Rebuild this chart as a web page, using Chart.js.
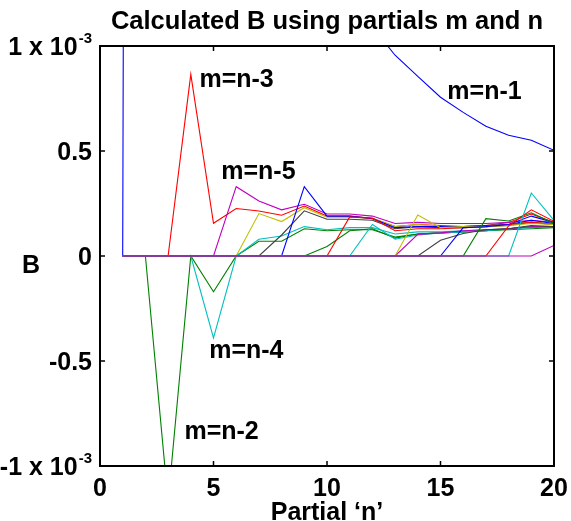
<!DOCTYPE html>
<html>
<head>
<meta charset="utf-8">
<script src="https://cdn.jsdelivr.net/npm/chart.js@4.4.0/dist/chart.umd.min.js"></script>
<style>
  html, body { margin: 0; padding: 0; background: #fff; overflow: hidden; }
  #wrap { width: 571px; height: 521px; }
  canvas { display: block; }
</style>
</head>
<body>
<div id="wrap"><canvas id="bChart"></canvas></div>
<script>
// partial number n (x axis)
const partialN = [1, 2, 3, 4, 5, 6, 7, 8, 9, 10, 11, 12, 13, 14, 15, 16, 17, 18, 19, 20];

// calculated B for m = n-k, in units of 1e-3
const bNm1  = [0, 40, 12, 6, 4, 2.8, 2.2, 1.8, 1.5, 1.3, 1.18, 1.09, 0.956, 0.855, 0.756, 0.684, 0.618, 0.575, 0.551, 0.503];
const bNm2  = [0, 0, -1.17, 0, -0.17, 0, 0.07, 0.07, 0.13, 0.12, 0.125, 0.125, 0.09, 0.105, 0.11, 0.115, 0.12, 0.125, 0.13, 0.135];
const bNm3  = [0, 0, 0, 0.865, 0.156, 0.226, 0.214, 0.194, 0.238, 0.19, 0.19, 0.18, 0.14, 0.15, 0.145, 0.14, 0.145, 0.16, 0.2, 0.16];
const bNm4  = [0, 0, 0, 0, -0.39, 0, 0.08, 0.095, 0.14, 0.125, 0.135, 0.135, 0.105, 0.115, 0.115, 0.12, 0.125, 0.13, 0.135, 0.14];
const bNm5  = [0, 0, 0, 0, 0, 0.33, 0.262, 0.22, 0.246, 0.2, 0.2, 0.19, 0.155, 0.16, 0.155, 0.155, 0.155, 0.16, 0.17, 0.16];
const bNm6  = [0, 0, 0, 0, 0, 0, 0.202, 0.164, 0.23, 0.185, 0.185, 0.18, 0.14, 0.15, 0.14, 0.14, 0.145, 0.15, 0.165, 0.15];
const bNm7  = [0, 0, 0, 0, 0, 0, 0, 0.1, 0.215, 0.175, 0.175, 0.17, 0.13, 0.14, 0.135, 0.135, 0.14, 0.145, 0.16, 0.15];
const bNm8  = [0, 0, 0, 0, 0, 0, 0, 0, 0.33, 0.19, 0.19, 0.178, 0.135, 0.14, 0.14, 0.14, 0.145, 0.15, 0.17, 0.155];
const bNm9  = [0, 0, 0, 0, 0, 0, 0, 0, 0, 0.045, 0.12, 0.13, 0.085, 0.105, 0.11, 0.115, 0.12, 0.13, 0.14, 0.14];
const bNm10 = [0, 0, 0, 0, 0, 0, 0, 0, 0, 0, 0.186, 0.18, 0.12, 0.13, 0.13, 0.135, 0.14, 0.15, 0.16, 0.15];
const bNm11 = [0, 0, 0, 0, 0, 0, 0, 0, 0, 0, 0, 0.15, 0.08, 0.1, 0.11, 0.115, 0.12, 0.13, 0.14, 0.14];
const bNm12 = [0, 0, 0, 0, 0, 0, 0, 0, 0, 0, 0, 0, 0, 0.103, 0.11, 0.12, 0.125, 0.13, 0.14, 0.14];
const bNm13 = [0, 0, 0, 0, 0, 0, 0, 0, 0, 0, 0, 0, 0, 0.195, 0.135, 0.14, 0.14, 0.145, 0.155, 0.15];
const bNm14 = [0, 0, 0, 0, 0, 0, 0, 0, 0, 0, 0, 0, 0, 0, 0.075, 0.107, 0.125, 0.13, 0.145, 0.14];
const bNm15 = [0, 0, 0, 0, 0, 0, 0, 0, 0, 0, 0, 0, 0, 0, 0, 0.135, 0.14, 0.15, 0.19, 0.16];
const bNm16 = [0, 0, 0, 0, 0, 0, 0, 0, 0, 0, 0, 0, 0, 0, 0, 0, 0.178, 0.167, 0.206, 0.155];
const bNm17 = [0, 0, 0, 0, 0, 0, 0, 0, 0, 0, 0, 0, 0, 0, 0, 0, 0, 0.143, 0.22, 0.165];
const bNm18 = [0, 0, 0, 0, 0, 0, 0, 0, 0, 0, 0, 0, 0, 0, 0, 0, 0, 0, 0.3, 0.17];
const bNm19 = [0, 0, 0, 0, 0, 0, 0, 0, 0, 0, 0, 0, 0, 0, 0, 0, 0, 0, 0, 0.05];

const allSeries = [bNm1, bNm2, bNm3, bNm4, bNm5, bNm6, bNm7, bNm8, bNm9, bNm10,
                   bNm11, bNm12, bNm13, bNm14, bNm15, bNm16, bNm17, bNm18, bNm19];

// old matlab line color order
const lineColors = ['rgb(0,0,255)', 'rgb(0,128,0)', 'rgb(255,0,0)', 'rgb(0,191,191)',
                    'rgb(191,0,191)', 'rgb(191,191,0)', 'rgb(64,64,64)'];

const yTickValues = [-1, -0.5, 0, 0.5, 1];
const yTickLabels = ['-1 x 10', '-0.5', '0', '0.5', '1 x 10'];
const yTickExp = ['-3', '', '', '', '-3'];
const xTickValues = [5, 10, 15];
const yInnerTicks = [-0.5, 0, 0.5];

const noteTexts = ['m=n-1', 'm=n-2', 'm=n-3', 'm=n-4', 'm=n-5'];
const noteX = [15.3, 3.72, 4.38, 4.81, 5.34];
const noteY = [0.746, -0.87, 0.803, -0.488, 0.365];

const FONT = 'Liberation Sans, Arial, Helvetica, sans-serif';
const bold25 = { family: FONT, size: 25, weight: 'bold' };

const datasets = allSeries.map((vals, i) => ({
    label: 'm=n-' + (i + 1),
    data: vals.map((v, j) => ({ x: partialN[j], y: v })),
    borderColor: lineColors[i % lineColors.length],
    borderWidth: 1.1,
    pointRadius: 0,
    tension: 0,
    fill: false,
    order: allSeries.length - i
}));

// box, inward ticks, y labels with exponent, ylabel and in-plot labels
const matlabAxes = {
    id: 'matlabAxes',
    afterDatasetsDraw(chart) {
        const ctx = chart.ctx;
        const a = chart.chartArea;
        const xs = chart.scales.x, ys = chart.scales.y;
        ctx.save();
        ctx.strokeStyle = '#000';
        ctx.lineWidth = 1.5;
        ctx.beginPath();
        xTickValues.forEach(v => {
            const px = xs.getPixelForValue(v);
            ctx.moveTo(px, a.bottom); ctx.lineTo(px, a.bottom - 5);
            ctx.moveTo(px, a.top); ctx.lineTo(px, a.top + 5);
        });
        yInnerTicks.forEach(v => {
            const py = ys.getPixelForValue(v);
            ctx.moveTo(a.left, py); ctx.lineTo(a.left + 5, py);
            ctx.moveTo(a.right, py); ctx.lineTo(a.right - 5, py);
        });
        ctx.stroke();
        ctx.lineWidth = 2;
        ctx.strokeRect(a.left, a.top, a.right - a.left, a.bottom - a.top);

        ctx.fillStyle = '#000';
        ctx.textBaseline = 'alphabetic';

        // y tick labels
        yTickValues.forEach((v, i) => {
            const py = ys.getPixelForValue(v);
            let right = a.left - 8;
            if (yTickExp[i]) {
                ctx.font = 'bold 15px ' + FONT;
                ctx.textAlign = 'right';
                ctx.fillText(yTickExp[i], right, py - 3);
                right -= ctx.measureText(yTickExp[i]).width + 1;
            }
            ctx.font = 'bold 25px ' + FONT;
            ctx.textAlign = 'right';
            ctx.fillText(yTickLabels[i], right, py + 9);
        });

        // y axis label (upright)
        ctx.font = 'bold 25px ' + FONT;
        ctx.textAlign = 'center';
        ctx.fillText('B', 31, ys.getPixelForValue(0) + 17);

        ctx.textAlign = 'left';
        noteTexts.forEach((t, i) => {
            ctx.fillText(t, xs.getPixelForValue(noteX[i]), ys.getPixelForValue(noteY[i]));
        });
        ctx.restore();
    }
};

new Chart(document.getElementById('bChart'), {
    type: 'line',
    data: { datasets: datasets },
    options: {
        responsive: true,
        maintainAspectRatio: false,
        animation: false,
        layout: { padding: { left: 0, right: 17, top: 0, bottom: 0 } },
        plugins: {
            legend: { display: false },
            tooltip: { enabled: false },
            title: {
                display: true,
                fullSize: false,
                text: 'Calculated B using partials m and n',
                color: '#000',
                font: { family: FONT, size: 25.5, weight: 'bold', lineHeight: 1.2 },
                padding: { top: 7, bottom: 8.4 }
            }
        },
        scales: {
            x: {
                type: 'linear',
                min: 0,
                max: 20,
                grid: { display: false, drawTicks: true, tickLength: 8 },
                border: { display: false },
                ticks: { stepSize: 5, padding: 0, color: '#000', font: bold25, maxRotation: 0 },
                title: { display: true, text: 'Partial \u2018n\u2019', color: '#000',
                         font: { family: FONT, size: 25, weight: 'bold', lineHeight: 0.8 },
                         padding: { top: 0, bottom: -2 } },
                afterFit: s => { s.height = 55; }
            },
            y: {
                type: 'linear',
                min: -1,
                max: 1,
                grid: { display: false, drawTicks: false },
                border: { display: false },
                ticks: { display: false, stepSize: 0.5 },
                afterFit: s => { s.width = 100; }
            }
        }
    },
    plugins: [matlabAxes]
});
</script>
</body>
</html>
